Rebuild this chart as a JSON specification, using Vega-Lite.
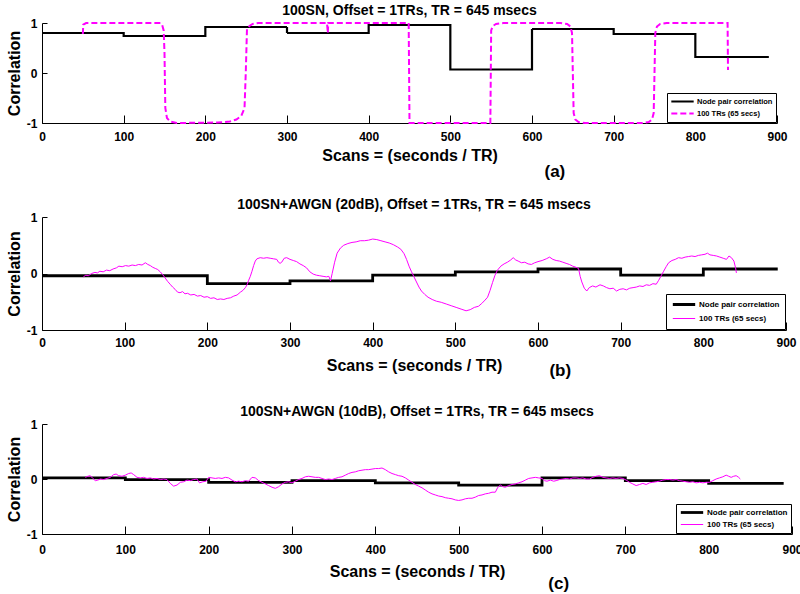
{
  "$schema": "https://vega.github.io/schema/vega-lite/v6.json",
  "padding": {"top": 4, "left": 6, "right": 0, "bottom": 0},
  "background": "white",
  "config": {
    "font": "Liberation Sans",
    "view": {"stroke": null},
    "axis": {"grid": false, "domainColor": "black", "domainWidth": 1, "tickColor": "black", "tickSize": -8, "labelColor": "black", "labelFontSize": 12, "labelFontWeight": "bold", "titleColor": "black", "titleFontSize": 16, "titleFontWeight": "bold", "labelFlush": false, "labelOverlap": false},
    "axisX": {"labelPadding": 16, "titlePadding": 5},
    "axisY": {"labelPadding": 10, "titlePadding": 4, "tickSize": -5},
    "title": {"fontSize": 14, "fontWeight": "bold", "color": "black", "frame": "group", "anchor": "middle", "offset": -1},
    "legend": {"strokeColor": "black", "fillColor": "white", "padding": 3, "labelFontSize": 7.5, "labelFontWeight": "bold", "labelColor": "black", "symbolType": "stroke", "symbolSize": 500, "rowPadding": 1, "labelOffset": 2, "clipHeight": 11, "orient": "bottom-right", "offset": 1}
  },
  "datasets": {
    "a_node": [
      {"scan": 0, "corr": 0.8}, {"scan": 100, "corr": 0.74}, {"scan": 200, "corr": 0.92}, {"scan": 300, "corr": 0.8}, {"scan": 400, "corr": 0.96}, {"scan": 500, "corr": 0.07}, {"scan": 600, "corr": 0.88}, {"scan": 700, "corr": 0.78}, {"scan": 800, "corr": 0.32}, {"scan": 890, "corr": 0.32}
    ],
    "a_win": [
      {"scan": 50, "corr": 0.78}, {"scan": 50.5, "corr": 0.97}, {"scan": 54, "corr": 1}, {"scan": 145, "corr": 1}, {"scan": 147, "corr": 0.97}, {"scan": 149, "corr": 0.85}, {"scan": 150, "corr": 0.4}, {"scan": 151, "corr": -0.7}, {"scan": 153, "corr": -0.9}, {"scan": 157, "corr": -0.97}, {"scan": 165, "corr": -1}, {"scan": 215, "corr": -0.99}, {"scan": 230, "corr": -0.97}, {"scan": 238, "corr": -0.93}, {"scan": 244, "corr": -0.86}, {"scan": 248, "corr": -0.7}, {"scan": 249.5, "corr": 0}, {"scan": 251, "corr": 0.88}, {"scan": 254, "corr": 0.94}, {"scan": 258, "corr": 0.98}, {"scan": 265, "corr": 1}, {"scan": 349, "corr": 1}, {"scan": 350, "corr": 0.8}, {"scan": 350.5, "corr": 1}, {"scan": 449, "corr": 1}, {"scan": 450, "corr": -1}, {"scan": 549, "corr": -1}, {"scan": 550, "corr": 0.85}, {"scan": 552, "corr": 0.94}, {"scan": 556, "corr": 0.98}, {"scan": 565, "corr": 1}, {"scan": 635, "corr": 1}, {"scan": 643, "corr": 0.98}, {"scan": 647, "corr": 0.93}, {"scan": 649, "corr": 0.8}, {"scan": 650, "corr": 0}, {"scan": 651, "corr": -0.8}, {"scan": 653, "corr": -0.93}, {"scan": 657, "corr": -0.98}, {"scan": 665, "corr": -1}, {"scan": 735, "corr": -1}, {"scan": 743, "corr": -0.98}, {"scan": 747, "corr": -0.93}, {"scan": 749, "corr": -0.8}, {"scan": 750, "corr": 0}, {"scan": 751, "corr": 0.8}, {"scan": 753, "corr": 0.93}, {"scan": 757, "corr": 0.98}, {"scan": 765, "corr": 1}, {"scan": 839.5, "corr": 1}, {"scan": 840, "corr": 0.06}
    ],
    "b_node": [
      {"scan": 0, "corr": -0.04}, {"scan": 200, "corr": -0.18}, {"scan": 300, "corr": -0.13}, {"scan": 400, "corr": -0.03}, {"scan": 500, "corr": 0.03}, {"scan": 600, "corr": 0.08}, {"scan": 700, "corr": -0.03}, {"scan": 800, "corr": 0.08}, {"scan": 890, "corr": 0.08}
    ],
    "b_win": [
      {"scan": 50, "corr": -0.06}, {"scan": 53, "corr": -0.03}, {"scan": 56, "corr": -0.04}, {"scan": 60, "corr": 0.0}, {"scan": 64, "corr": 0.02}, {"scan": 67, "corr": 0.01}, {"scan": 70, "corr": 0.04}, {"scan": 74, "corr": 0.03}, {"scan": 78, "corr": 0.06}, {"scan": 82, "corr": 0.05}, {"scan": 86, "corr": 0.08}, {"scan": 90, "corr": 0.1}, {"scan": 93, "corr": 0.13}, {"scan": 97, "corr": 0.12}, {"scan": 101, "corr": 0.14}, {"scan": 105, "corr": 0.13}, {"scan": 109, "corr": 0.15}, {"scan": 113, "corr": 0.14}, {"scan": 117, "corr": 0.16}, {"scan": 121, "corr": 0.15}, {"scan": 125, "corr": 0.19}, {"scan": 128, "corr": 0.16}, {"scan": 131, "corr": 0.14}, {"scan": 134, "corr": 0.11}, {"scan": 137, "corr": 0.09}, {"scan": 140, "corr": 0.07}, {"scan": 143, "corr": 0.03}, {"scan": 146, "corr": -0.02}, {"scan": 149, "corr": -0.08}, {"scan": 152, "corr": -0.14}, {"scan": 155, "corr": -0.19}, {"scan": 158, "corr": -0.24}, {"scan": 161, "corr": -0.28}, {"scan": 164, "corr": -0.33}, {"scan": 167, "corr": -0.34}, {"scan": 170, "corr": -0.32}, {"scan": 173, "corr": -0.36}, {"scan": 176, "corr": -0.35}, {"scan": 180, "corr": -0.38}, {"scan": 184, "corr": -0.37}, {"scan": 188, "corr": -0.4}, {"scan": 192, "corr": -0.39}, {"scan": 196, "corr": -0.42}, {"scan": 200, "corr": -0.41}, {"scan": 204, "corr": -0.44}, {"scan": 208, "corr": -0.43}, {"scan": 212, "corr": -0.46}, {"scan": 216, "corr": -0.45}, {"scan": 220, "corr": -0.46}, {"scan": 224, "corr": -0.44}, {"scan": 228, "corr": -0.43}, {"scan": 232, "corr": -0.4}, {"scan": 236, "corr": -0.38}, {"scan": 240, "corr": -0.33}, {"scan": 243, "corr": -0.3}, {"scan": 246, "corr": -0.25}, {"scan": 248, "corr": -0.2}, {"scan": 250, "corr": -0.12}, {"scan": 252, "corr": -0.05}, {"scan": 254, "corr": 0.04}, {"scan": 256, "corr": 0.14}, {"scan": 258, "corr": 0.22}, {"scan": 260, "corr": 0.26}, {"scan": 264, "corr": 0.28}, {"scan": 268, "corr": 0.27}, {"scan": 272, "corr": 0.28}, {"scan": 276, "corr": 0.27}, {"scan": 280, "corr": 0.26}, {"scan": 284, "corr": 0.25}, {"scan": 286, "corr": 0.2}, {"scan": 288, "corr": 0.18}, {"scan": 290, "corr": 0.2}, {"scan": 293, "corr": 0.27}, {"scan": 296, "corr": 0.28}, {"scan": 300, "corr": 0.25}, {"scan": 304, "corr": 0.23}, {"scan": 308, "corr": 0.21}, {"scan": 312, "corr": 0.17}, {"scan": 316, "corr": 0.14}, {"scan": 320, "corr": 0.1}, {"scan": 324, "corr": 0.03}, {"scan": 328, "corr": -0.01}, {"scan": 332, "corr": -0.03}, {"scan": 336, "corr": -0.04}, {"scan": 340, "corr": -0.05}, {"scan": 344, "corr": -0.06}, {"scan": 347, "corr": -0.05}, {"scan": 349, "corr": -0.13}, {"scan": 351, "corr": 0.0}, {"scan": 354, "corr": 0.2}, {"scan": 357, "corr": 0.36}, {"scan": 361, "corr": 0.45}, {"scan": 365, "corr": 0.5}, {"scan": 370, "corr": 0.53}, {"scan": 375, "corr": 0.55}, {"scan": 380, "corr": 0.56}, {"scan": 385, "corr": 0.58}, {"scan": 390, "corr": 0.58}, {"scan": 395, "corr": 0.59}, {"scan": 400, "corr": 0.61}, {"scan": 405, "corr": 0.6}, {"scan": 410, "corr": 0.58}, {"scan": 415, "corr": 0.56}, {"scan": 420, "corr": 0.54}, {"scan": 425, "corr": 0.51}, {"scan": 430, "corr": 0.47}, {"scan": 434, "corr": 0.43}, {"scan": 438, "corr": 0.35}, {"scan": 441, "corr": 0.25}, {"scan": 444, "corr": 0.13}, {"scan": 447, "corr": 0.03}, {"scan": 450, "corr": -0.06}, {"scan": 453, "corr": -0.15}, {"scan": 456, "corr": -0.24}, {"scan": 459, "corr": -0.31}, {"scan": 463, "corr": -0.37}, {"scan": 467, "corr": -0.42}, {"scan": 472, "corr": -0.46}, {"scan": 477, "corr": -0.49}, {"scan": 483, "corr": -0.51}, {"scan": 489, "corr": -0.54}, {"scan": 495, "corr": -0.57}, {"scan": 501, "corr": -0.6}, {"scan": 507, "corr": -0.63}, {"scan": 513, "corr": -0.66}, {"scan": 518, "corr": -0.64}, {"scan": 523, "corr": -0.6}, {"scan": 528, "corr": -0.58}, {"scan": 532, "corr": -0.53}, {"scan": 536, "corr": -0.47}, {"scan": 539, "corr": -0.42}, {"scan": 542, "corr": -0.3}, {"scan": 545, "corr": -0.16}, {"scan": 548, "corr": -0.03}, {"scan": 551, "corr": 0.06}, {"scan": 555, "corr": 0.13}, {"scan": 559, "corr": 0.17}, {"scan": 563, "corr": 0.2}, {"scan": 567, "corr": 0.24}, {"scan": 570, "corr": 0.28}, {"scan": 573, "corr": 0.24}, {"scan": 576, "corr": 0.22}, {"scan": 580, "corr": 0.19}, {"scan": 584, "corr": 0.2}, {"scan": 588, "corr": 0.17}, {"scan": 592, "corr": 0.16}, {"scan": 596, "corr": 0.19}, {"scan": 600, "corr": 0.21}, {"scan": 605, "corr": 0.23}, {"scan": 610, "corr": 0.26}, {"scan": 614, "corr": 0.29}, {"scan": 618, "corr": 0.25}, {"scan": 622, "corr": 0.23}, {"scan": 626, "corr": 0.22}, {"scan": 630, "corr": 0.2}, {"scan": 634, "corr": 0.18}, {"scan": 638, "corr": 0.16}, {"scan": 642, "corr": 0.13}, {"scan": 646, "corr": 0.11}, {"scan": 649, "corr": 0.09}, {"scan": 651, "corr": -0.05}, {"scan": 653, "corr": -0.15}, {"scan": 656, "corr": -0.26}, {"scan": 659, "corr": -0.31}, {"scan": 662, "corr": -0.25}, {"scan": 666, "corr": -0.22}, {"scan": 670, "corr": -0.24}, {"scan": 675, "corr": -0.2}, {"scan": 679, "corr": -0.22}, {"scan": 683, "corr": -0.25}, {"scan": 687, "corr": -0.27}, {"scan": 691, "corr": -0.26}, {"scan": 695, "corr": -0.31}, {"scan": 699, "corr": -0.28}, {"scan": 703, "corr": -0.27}, {"scan": 707, "corr": -0.29}, {"scan": 711, "corr": -0.26}, {"scan": 715, "corr": -0.25}, {"scan": 719, "corr": -0.24}, {"scan": 723, "corr": -0.22}, {"scan": 727, "corr": -0.23}, {"scan": 731, "corr": -0.2}, {"scan": 735, "corr": -0.21}, {"scan": 739, "corr": -0.18}, {"scan": 743, "corr": -0.19}, {"scan": 746, "corr": -0.12}, {"scan": 749, "corr": -0.04}, {"scan": 752, "corr": 0.04}, {"scan": 755, "corr": 0.12}, {"scan": 758, "corr": 0.19}, {"scan": 762, "corr": 0.23}, {"scan": 766, "corr": 0.25}, {"scan": 770, "corr": 0.28}, {"scan": 774, "corr": 0.27}, {"scan": 778, "corr": 0.29}, {"scan": 782, "corr": 0.3}, {"scan": 786, "corr": 0.31}, {"scan": 790, "corr": 0.3}, {"scan": 794, "corr": 0.32}, {"scan": 798, "corr": 0.33}, {"scan": 802, "corr": 0.34}, {"scan": 805, "corr": 0.36}, {"scan": 808, "corr": 0.33}, {"scan": 812, "corr": 0.32}, {"scan": 816, "corr": 0.31}, {"scan": 820, "corr": 0.29}, {"scan": 824, "corr": 0.27}, {"scan": 828, "corr": 0.25}, {"scan": 831, "corr": 0.31}, {"scan": 834, "corr": 0.28}, {"scan": 837, "corr": 0.22}, {"scan": 839, "corr": 0.1}, {"scan": 840, "corr": 0.01}
    ],
    "c_node": [
      {"scan": 0, "corr": 0.02}, {"scan": 100, "corr": -0.01}, {"scan": 200, "corr": -0.06}, {"scan": 300, "corr": -0.03}, {"scan": 400, "corr": -0.07}, {"scan": 500, "corr": -0.11}, {"scan": 600, "corr": 0.02}, {"scan": 700, "corr": -0.03}, {"scan": 800, "corr": -0.08}, {"scan": 890, "corr": -0.08}
    ],
    "c_win": [
      {"scan": 52, "corr": 0.03}, {"scan": 55, "corr": 0.05}, {"scan": 58, "corr": 0.06}, {"scan": 61, "corr": 0.01}, {"scan": 64, "corr": -0.03}, {"scan": 67, "corr": -0.02}, {"scan": 70, "corr": 0.0}, {"scan": 74, "corr": -0.01}, {"scan": 78, "corr": 0.01}, {"scan": 82, "corr": 0.03}, {"scan": 86, "corr": 0.08}, {"scan": 89, "corr": 0.09}, {"scan": 92, "corr": 0.06}, {"scan": 96, "corr": 0.05}, {"scan": 100, "corr": 0.07}, {"scan": 104, "corr": 0.1}, {"scan": 107, "corr": 0.11}, {"scan": 110, "corr": 0.08}, {"scan": 114, "corr": 0.03}, {"scan": 118, "corr": 0.02}, {"scan": 122, "corr": 0.03}, {"scan": 126, "corr": 0.01}, {"scan": 130, "corr": 0.02}, {"scan": 134, "corr": 0.0}, {"scan": 138, "corr": 0.01}, {"scan": 142, "corr": -0.01}, {"scan": 146, "corr": 0.0}, {"scan": 150, "corr": -0.01}, {"scan": 154, "corr": -0.08}, {"scan": 158, "corr": -0.13}, {"scan": 162, "corr": -0.11}, {"scan": 166, "corr": -0.06}, {"scan": 170, "corr": -0.05}, {"scan": 174, "corr": -0.02}, {"scan": 178, "corr": -0.03}, {"scan": 182, "corr": -0.01}, {"scan": 186, "corr": 0.0}, {"scan": 189, "corr": -0.07}, {"scan": 193, "corr": -0.05}, {"scan": 197, "corr": -0.04}, {"scan": 200, "corr": 0.03}, {"scan": 204, "corr": 0.02}, {"scan": 208, "corr": 0.01}, {"scan": 212, "corr": 0.02}, {"scan": 216, "corr": 0.01}, {"scan": 220, "corr": 0.03}, {"scan": 224, "corr": 0.02}, {"scan": 228, "corr": -0.02}, {"scan": 232, "corr": -0.05}, {"scan": 236, "corr": -0.04}, {"scan": 240, "corr": -0.05}, {"scan": 244, "corr": -0.03}, {"scan": 248, "corr": -0.04}, {"scan": 252, "corr": 0.03}, {"scan": 256, "corr": 0.02}, {"scan": 260, "corr": -0.03}, {"scan": 264, "corr": -0.06}, {"scan": 268, "corr": -0.09}, {"scan": 272, "corr": -0.12}, {"scan": 276, "corr": -0.15}, {"scan": 280, "corr": -0.17}, {"scan": 284, "corr": -0.14}, {"scan": 288, "corr": -0.09}, {"scan": 292, "corr": -0.06}, {"scan": 296, "corr": -0.05}, {"scan": 300, "corr": -0.07}, {"scan": 304, "corr": -0.04}, {"scan": 308, "corr": -0.01}, {"scan": 312, "corr": 0.01}, {"scan": 316, "corr": 0.04}, {"scan": 320, "corr": 0.05}, {"scan": 324, "corr": 0.04}, {"scan": 328, "corr": 0.03}, {"scan": 332, "corr": 0.03}, {"scan": 336, "corr": 0.01}, {"scan": 340, "corr": -0.01}, {"scan": 344, "corr": 0.0}, {"scan": 348, "corr": -0.01}, {"scan": 352, "corr": 0.01}, {"scan": 356, "corr": 0.03}, {"scan": 360, "corr": 0.04}, {"scan": 364, "corr": 0.07}, {"scan": 368, "corr": 0.1}, {"scan": 372, "corr": 0.12}, {"scan": 376, "corr": 0.13}, {"scan": 380, "corr": 0.15}, {"scan": 384, "corr": 0.16}, {"scan": 388, "corr": 0.17}, {"scan": 392, "corr": 0.17}, {"scan": 396, "corr": 0.18}, {"scan": 400, "corr": 0.19}, {"scan": 404, "corr": 0.19}, {"scan": 408, "corr": 0.2}, {"scan": 412, "corr": 0.17}, {"scan": 416, "corr": 0.13}, {"scan": 420, "corr": 0.1}, {"scan": 424, "corr": 0.08}, {"scan": 428, "corr": 0.06}, {"scan": 432, "corr": 0.05}, {"scan": 436, "corr": 0.02}, {"scan": 440, "corr": -0.02}, {"scan": 444, "corr": -0.06}, {"scan": 448, "corr": -0.1}, {"scan": 452, "corr": -0.13}, {"scan": 456, "corr": -0.16}, {"scan": 460, "corr": -0.2}, {"scan": 464, "corr": -0.24}, {"scan": 468, "corr": -0.27}, {"scan": 472, "corr": -0.29}, {"scan": 476, "corr": -0.31}, {"scan": 480, "corr": -0.32}, {"scan": 484, "corr": -0.34}, {"scan": 488, "corr": -0.35}, {"scan": 492, "corr": -0.36}, {"scan": 496, "corr": -0.38}, {"scan": 500, "corr": -0.39}, {"scan": 504, "corr": -0.38}, {"scan": 508, "corr": -0.36}, {"scan": 512, "corr": -0.35}, {"scan": 516, "corr": -0.35}, {"scan": 520, "corr": -0.33}, {"scan": 524, "corr": -0.3}, {"scan": 528, "corr": -0.29}, {"scan": 532, "corr": -0.27}, {"scan": 536, "corr": -0.26}, {"scan": 540, "corr": -0.24}, {"scan": 544, "corr": -0.24}, {"scan": 547, "corr": -0.15}, {"scan": 550, "corr": -0.11}, {"scan": 553, "corr": -0.14}, {"scan": 556, "corr": -0.15}, {"scan": 560, "corr": -0.12}, {"scan": 564, "corr": -0.1}, {"scan": 568, "corr": -0.09}, {"scan": 572, "corr": -0.07}, {"scan": 576, "corr": -0.05}, {"scan": 580, "corr": -0.02}, {"scan": 584, "corr": 0.01}, {"scan": 588, "corr": 0.02}, {"scan": 592, "corr": 0.03}, {"scan": 596, "corr": 0.02}, {"scan": 600, "corr": 0.01}, {"scan": 603, "corr": -0.03}, {"scan": 606, "corr": -0.04}, {"scan": 610, "corr": -0.02}, {"scan": 614, "corr": -0.04}, {"scan": 617, "corr": -0.03}, {"scan": 621, "corr": -0.01}, {"scan": 625, "corr": 0.0}, {"scan": 629, "corr": 0.01}, {"scan": 633, "corr": 0.0}, {"scan": 637, "corr": 0.02}, {"scan": 641, "corr": 0.02}, {"scan": 645, "corr": 0.01}, {"scan": 649, "corr": 0.02}, {"scan": 653, "corr": 0.0}, {"scan": 657, "corr": 0.0}, {"scan": 661, "corr": 0.03}, {"scan": 665, "corr": 0.05}, {"scan": 669, "corr": 0.06}, {"scan": 673, "corr": 0.03}, {"scan": 677, "corr": 0.02}, {"scan": 681, "corr": 0.01}, {"scan": 685, "corr": 0.02}, {"scan": 689, "corr": 0.01}, {"scan": 693, "corr": 0.02}, {"scan": 697, "corr": 0.01}, {"scan": 701, "corr": -0.02}, {"scan": 705, "corr": -0.06}, {"scan": 709, "corr": -0.09}, {"scan": 713, "corr": -0.12}, {"scan": 717, "corr": -0.1}, {"scan": 721, "corr": -0.08}, {"scan": 725, "corr": -0.1}, {"scan": 729, "corr": -0.07}, {"scan": 733, "corr": -0.06}, {"scan": 737, "corr": -0.05}, {"scan": 741, "corr": -0.04}, {"scan": 745, "corr": -0.02}, {"scan": 749, "corr": -0.01}, {"scan": 753, "corr": -0.01}, {"scan": 757, "corr": -0.02}, {"scan": 761, "corr": -0.01}, {"scan": 765, "corr": -0.03}, {"scan": 769, "corr": -0.04}, {"scan": 773, "corr": -0.05}, {"scan": 777, "corr": -0.06}, {"scan": 781, "corr": -0.05}, {"scan": 785, "corr": -0.07}, {"scan": 789, "corr": -0.06}, {"scan": 793, "corr": -0.07}, {"scan": 797, "corr": -0.06}, {"scan": 801, "corr": -0.06}, {"scan": 805, "corr": -0.03}, {"scan": 809, "corr": 0.0}, {"scan": 813, "corr": 0.02}, {"scan": 817, "corr": 0.04}, {"scan": 821, "corr": 0.07}, {"scan": 824, "corr": 0.05}, {"scan": 827, "corr": 0.03}, {"scan": 830, "corr": 0.05}, {"scan": 833, "corr": 0.06}, {"scan": 836, "corr": 0.03}, {"scan": 838, "corr": 0.0}
    ],
    "a_lab": [{"label": "(a)"}],
    "b_lab": [{"label": "(b)"}],
    "c_lab": [{"label": "(c)"}]
  },
  "spacing": 94,
  "bounds": "flush",
  "resolve": {
    "scale": {"color": "independent", "strokeDash": "independent", "strokeWidth": "independent"},
    "legend": {"color": "independent", "strokeDash": "independent", "strokeWidth": "independent"}
  },
  "vconcat": [
    {
      "width": 735, "height": 100,
      "title": "100SN, Offset = 1TRs, TR = 645 msecs",
      "layer": [
        {
          "data": {"name": "a_node"},
          "mark": {"type": "line", "interpolate": "step-after"},
          "encoding": {
            "x": {"field": "scan", "type": "quantitative", "scale": {"domain": [0, 900], "nice": false}, "axis": {"title": "Scans = (seconds / TR)", "values": [0, 100, 200, 300, 400, 500, 600, 700, 800, 900], "format": "d"}},
            "y": {"field": "corr", "type": "quantitative", "scale": {"domain": [-1, 1], "nice": false}, "axis": {"title": "Correlation", "values": [-1, 0, 1], "labelExpr": "'' + datum.value", "labelOverlap": false}},
            "color": {"datum": "Node pair correlation", "type": "nominal", "scale": {"domain": ["Node pair correlation", "100 TRs (65 secs)"], "range": ["#000000", "#ff00ff"]}, "legend": {"title": null}},
            "strokeDash": {"datum": "Node pair correlation", "type": "nominal", "scale": {"domain": ["Node pair correlation", "100 TRs (65 secs)"], "range": [[1, 0], [6, 3]]}, "legend": {"title": null}},
            "strokeWidth": {"datum": "Node pair correlation", "type": "nominal", "scale": {"domain": ["Node pair correlation", "100 TRs (65 secs)"], "range": [2.2, 2]}, "legend": {"title": null}}
          }
        },
        {
          "data": {"name": "a_win"},
          "mark": {"type": "line"},
          "encoding": {
            "x": {"field": "scan", "type": "quantitative"},
            "y": {"field": "corr", "type": "quantitative"},
            "color": {"datum": "100 TRs (65 secs)", "type": "nominal"},
            "strokeDash": {"datum": "100 TRs (65 secs)", "type": "nominal"},
            "strokeWidth": {"datum": "100 TRs (65 secs)", "type": "nominal"}
          }
        },
        {
          "data": {"name": "a_lab"},
          "mark": {"type": "text", "dy": 49, "fontSize": 17, "fontWeight": "bold", "color": "black", "align": "center", "baseline": "middle"},
          "encoding": {
            "x": {"datum": 628, "type": "quantitative"},
            "y": {"datum": -1, "type": "quantitative"},
            "text": {"field": "label", "type": "nominal"}
          }
        }
      ]
    },
    {
      "width": 744, "height": 113,
      "title": "100SN+AWGN (20dB), Offset = 1TRs, TR = 645 msecs",
      "layer": [
        {
          "data": {"name": "b_node"},
          "mark": {"type": "line", "interpolate": "step-after"},
          "encoding": {
            "x": {"field": "scan", "type": "quantitative", "scale": {"domain": [0, 900], "nice": false}, "axis": {"title": "Scans = (seconds / TR)", "values": [0, 100, 200, 300, 400, 500, 600, 700, 800, 900], "format": "d", "labelPadding": 15, "titlePadding": 9}},
            "y": {"field": "corr", "type": "quantitative", "scale": {"domain": [-1, 1], "nice": false}, "axis": {"title": "Correlation", "values": [-1, 0, 1], "labelExpr": "'' + datum.value", "labelOverlap": false}},
            "color": {"datum": "Node pair correlation", "type": "nominal", "scale": {"domain": ["Node pair correlation", "100 TRs (65 secs)"], "range": ["#000000", "#ff00ff"]}, "legend": {"title": null, "padding": 5, "rowPadding": 3, "labelFontSize": 8}},
            "strokeWidth": {"datum": "Node pair correlation", "type": "nominal", "scale": {"domain": ["Node pair correlation", "100 TRs (65 secs)"], "range": [2.8, 1]}, "legend": {"title": null, "padding": 5, "rowPadding": 3, "labelFontSize": 8}}
          }
        },
        {
          "data": {"name": "b_win"},
          "mark": {"type": "line"},
          "encoding": {
            "x": {"field": "scan", "type": "quantitative"},
            "y": {"field": "corr", "type": "quantitative"},
            "color": {"datum": "100 TRs (65 secs)", "type": "nominal"},
            "strokeWidth": {"datum": "100 TRs (65 secs)", "type": "nominal"}
          }
        },
        {
          "data": {"name": "b_lab"},
          "mark": {"type": "text", "dy": 41, "fontSize": 17, "fontWeight": "bold", "color": "black", "align": "center", "baseline": "middle"},
          "encoding": {
            "x": {"datum": 627, "type": "quantitative"},
            "y": {"datum": -1, "type": "quantitative"},
            "text": {"field": "label", "type": "nominal"}
          }
        }
      ]
    },
    {
      "width": 750, "height": 110,
      "title": "100SN+AWGN (10dB), Offset = 1TRs, TR = 645 msecs",
      "layer": [
        {
          "data": {"name": "c_node"},
          "mark": {"type": "line", "interpolate": "step-after"},
          "encoding": {
            "x": {"field": "scan", "type": "quantitative", "scale": {"domain": [0, 900], "nice": false}, "axis": {"title": "Scans = (seconds / TR)", "values": [0, 100, 200, 300, 400, 500, 600, 700, 800, 900], "format": "d", "labelPadding": 18, "titlePadding": 8}},
            "y": {"field": "corr", "type": "quantitative", "scale": {"domain": [-1, 1], "nice": false}, "axis": {"title": "Correlation", "values": [-1, 0, 1], "labelExpr": "'' + datum.value", "labelOverlap": false}},
            "color": {"datum": "Node pair correlation", "type": "nominal", "scale": {"domain": ["Node pair correlation", "100 TRs (65 secs)"], "range": ["#000000", "#ff00ff"]}, "legend": {"title": null, "labelFontSize": 8}},
            "strokeWidth": {"datum": "Node pair correlation", "type": "nominal", "scale": {"domain": ["Node pair correlation", "100 TRs (65 secs)"], "range": [2.8, 1]}, "legend": {"title": null, "labelFontSize": 8}}
          }
        },
        {
          "data": {"name": "c_win"},
          "mark": {"type": "line"},
          "encoding": {
            "x": {"field": "scan", "type": "quantitative"},
            "y": {"field": "corr", "type": "quantitative"},
            "color": {"datum": "100 TRs (65 secs)", "type": "nominal"},
            "strokeWidth": {"datum": "100 TRs (65 secs)", "type": "nominal"}
          }
        },
        {
          "data": {"name": "c_lab"},
          "mark": {"type": "text", "dy": 50, "fontSize": 17, "fontWeight": "bold", "color": "black", "align": "center", "baseline": "middle"},
          "encoding": {
            "x": {"datum": 620, "type": "quantitative"},
            "y": {"datum": -1, "type": "quantitative"},
            "text": {"field": "label", "type": "nominal"}
          }
        }
      ]
    }
  ]
}
